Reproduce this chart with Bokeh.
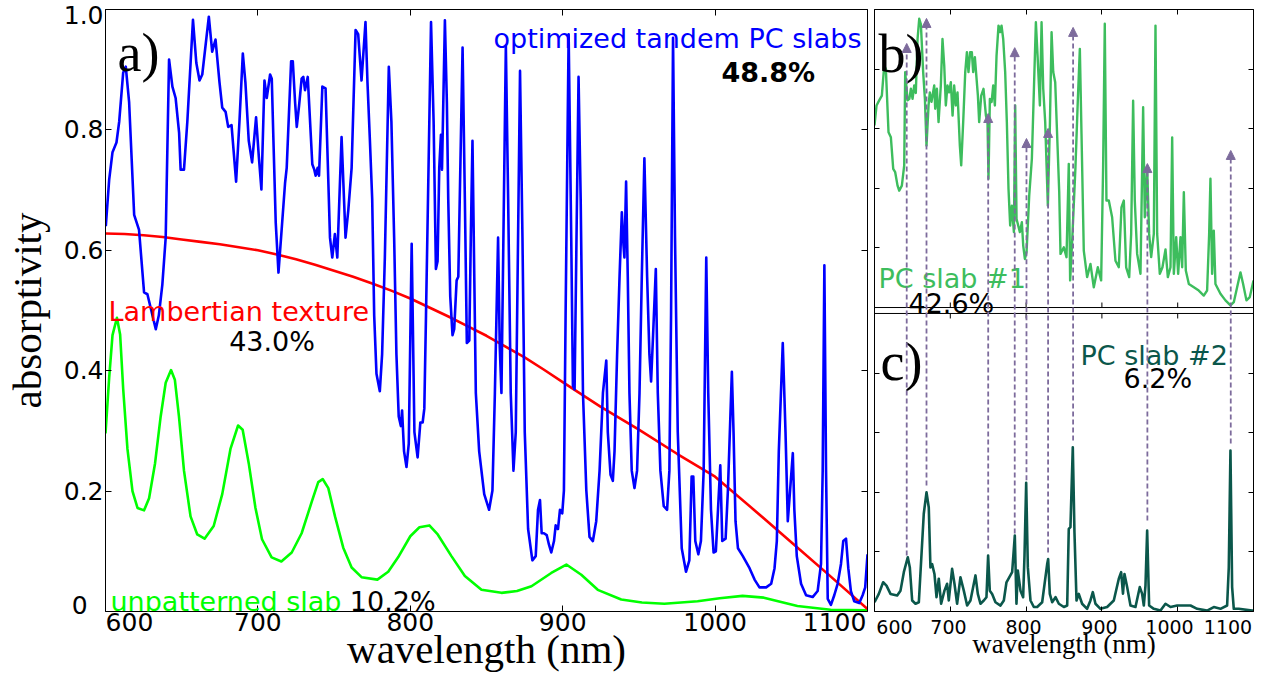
from bokeh.plotting import figure
from bokeh.models import (Label, Range1d, LinearAxis, FixedTicker, Span, Arrow, NormalHead,
                          ColumnDataSource, CustomJSTickFormatter)
from bokeh.layouts import row
from bokeh.embed import file_html
from bokeh.resources import INLINE

# ---------------- data ----------------
# panel a: optimized tandem PC slabs (blue)
tandem_nm = [600.2, 602.4, 604.6, 607.2, 609.0, 611.6, 613.3, 615.5, 618.8, 622.0, 625.3, 627.5, 630.8, 633.0,
             635.0, 637.3, 639.5, 641.7, 643.9, 646.0, 648.3, 649.3, 651.5, 653.7, 657.4, 659.6, 661.7, 663.5,
             667.8, 670.0, 672.2, 674.8, 676.6, 678.8, 680.5, 682.7, 685.7, 687.9, 690.1, 691.8, 694.0, 696.2,
             698.8, 700.6, 702.3, 704.3, 705.8, 708.0, 709.1, 710.2, 711.7, 713.5, 715.2, 717.8, 718.9, 721.8,
             722.9, 724.4, 725.5, 727.0, 728.7, 729.8, 730.9, 732.7, 735.7, 737.0, 737.9, 739.2, 740.1, 742.3,
             744.4, 745.8, 747.3, 748.8, 750.5, 752.1, 754.9, 757.5, 759.3, 761.5, 764.1, 765.8, 768.0, 770.6,
             771.9, 773.5, 775.0, 776.3, 777.8, 780.0, 781.5, 783.3, 785.9, 787.6, 789.4, 790.9, 792.4, 793.8,
             794.6, 795.9, 797.5, 799.0, 800.9, 802.7, 804.8, 806.6, 808.1, 809.2, 810.3, 813.6, 815.3, 816.8,
             817.9, 819.0, 820.1, 820.8, 822.7, 824.0, 824.9, 826.2, 827.7, 828.8, 830.4, 831.5, 834.3, 835.8,
             837.1, 838.7, 839.7, 840.8, 843.0, 845.2, 848.5, 851.7, 853.9, 855.5, 857.6, 858.7, 859.8, 862.7,
             864.2, 865.9, 867.7, 869.2, 872.0, 873.6, 875.1, 877.3, 880.1, 882.3, 883.8, 885.1, 886.2, 887.7,
             889.5, 891.0, 892.5, 894.3, 895.4, 896.9, 898.2, 899.7, 900.8, 901.9, 903.9, 905.6, 906.7, 907.8,
             910.4, 911.8, 913.3, 915.5, 917.6, 919.8, 922.0, 924.2, 926.4, 928.6, 929.6, 931.4, 932.9, 934.0,
             935.7, 937.3, 938.8, 939.9, 940.5, 941.6, 942.7, 943.8, 945.3, 947.1, 948.8, 950.4, 951.9, 953.6,
             955.4, 956.9, 958.0, 959.3, 961.1, 962.4, 964.1, 966.3, 968.5, 970.0, 971.1, 972.4, 973.7, 975.5,
             978.1, 980.9, 983.1, 984.6, 985.7, 987.0, 989.0, 990.7, 992.5, 994.2, 995.5, 997.3, 999.0, 1000.5,
             1001.9, 1003.4, 1004.7, 1006.9, 1008.4, 1011.0, 1012.1, 1013.4, 1015.0, 1018.2, 1022.6, 1025.9,
             1029.1, 1033.5, 1036.8, 1039.0, 1040.5, 1041.8, 1044.4, 1046.2, 1047.7, 1049.2, 1051.0, 1052.0,
             1053.6, 1056.4, 1059.7, 1064.0, 1067.3, 1069.5, 1070.6, 1071.7, 1072.8, 1073.9, 1076.0, 1078.2,
             1080.4, 1082.6, 1084.1, 1085.9, 1087.4, 1089.1, 1091.3, 1094.6, 1096.8, 1098.5, 1100.0]
tandem_abs = [0.640, 0.717, 0.763, 0.779, 0.814, 0.895, 0.905, 0.846, 0.659, 0.634, 0.530, 0.527, 0.492, 0.469,
              0.492, 0.543, 0.621, 0.917, 0.872, 0.853, 0.795, 0.734, 0.734, 0.814, 0.983, 0.911, 0.882, 0.892,
              0.988, 0.930, 0.950, 0.879, 0.837, 0.830, 0.805, 0.808, 0.714, 0.814, 0.927, 0.879, 0.782, 0.746,
              0.821, 0.756, 0.701, 0.882, 0.853, 0.892, 0.885, 0.782, 0.646, 0.563, 0.621, 0.711, 0.737, 0.914,
              0.914, 0.846, 0.805, 0.840, 0.885, 0.888, 0.866, 0.888, 0.743, 0.734, 0.724, 0.737, 0.724, 0.872,
              0.869, 0.750, 0.621, 0.588, 0.627, 0.588, 0.788, 0.621, 0.666, 0.737, 0.966, 0.959, 0.882, 0.979,
              0.879, 0.782, 0.685, 0.492, 0.395, 0.366, 0.427, 0.588, 0.905, 0.814, 0.621, 0.427, 0.324, 0.308,
              0.334, 0.266, 0.240, 0.279, 0.611, 0.298, 0.256, 0.314, 0.314, 0.337, 0.492, 0.979, 0.814, 0.569,
              0.582, 0.737, 0.792, 0.734, 0.982, 0.846, 0.685, 0.524, 0.459, 0.469, 0.550, 0.556, 0.937, 0.685,
              0.446, 0.450, 0.621, 0.782, 0.363, 0.266, 0.195, 0.169, 0.201, 0.363, 0.621, 0.440, 0.363, 0.940,
              0.685, 0.363, 0.234, 0.298, 0.898, 0.621, 0.298, 0.137, 0.085, 0.092, 0.169, 0.185, 0.130, 0.130,
              0.127, 0.111, 0.098, 0.117, 0.143, 0.137, 0.169, 0.163, 0.201, 0.492, 0.959, 0.621, 0.375, 0.369,
              0.888, 0.685, 0.363, 0.201, 0.124, 0.117, 0.150, 0.234, 0.363, 0.417, 0.298, 0.227, 0.217, 0.266,
              0.427, 0.556, 0.663, 0.608, 0.588, 0.714, 0.556, 0.363, 0.234, 0.205, 0.234, 0.363, 0.556, 0.753,
              0.556, 0.427, 0.382, 0.459, 0.569, 0.363, 0.234, 0.175, 0.169, 0.234, 0.492, 0.953, 0.621, 0.298,
              0.105, 0.066, 0.085, 0.224, 0.224, 0.117, 0.095, 0.117, 0.234, 0.588, 0.363, 0.169, 0.098, 0.100,
              0.169, 0.243, 0.117, 0.121, 0.201, 0.398, 0.298, 0.150, 0.105, 0.092, 0.072, 0.053,
              0.040, 0.040, 0.046, 0.072, 0.117, 0.266, 0.446, 0.298, 0.150, 0.201, 0.263, 0.169,
              0.092, 0.046, 0.027, 0.024, 0.034, 0.079, 0.234, 0.575, 0.234, 0.021, 0.011, 0.027,
              0.046, 0.079, 0.117, 0.121, 0.072, 0.034, 0.017, 0.014, 0.027, 0.040, 0.095]

# panel a: Lambertian texture (red)
lamb_nm = [600, 612.5, 625, 637.5, 650, 662.5, 675, 687.5, 700, 712.5, 725, 737.5, 750, 762.5, 775, 787.5, 800,
           812.5, 825, 837.5, 850, 862.5, 875, 887.5, 900, 925, 950, 975, 1000, 1025, 1050, 1075, 1100]
lamb_abs = [0.628, 0.627, 0.625, 0.622, 0.618, 0.614, 0.610, 0.605, 0.600, 0.593, 0.585, 0.576, 0.566, 0.556,
            0.545, 0.533, 0.520, 0.505, 0.490, 0.474, 0.458, 0.440, 0.422, 0.402, 0.381, 0.340, 0.302, 0.262,
            0.224, 0.170, 0.115, 0.060, 0.004]

# panel a: unpatterned slab (green)
slab_nm = [600.0, 602.4, 604.6, 607.5, 609.6, 611.6, 614.4, 617.7, 621.0, 625.3, 628.6, 632.5, 636.2, 639.5,
           643.0, 645.5, 648.2, 651.5, 655.8, 660.2, 665.0, 671.0, 676.6, 682.0, 687.0, 690.0, 694.0, 698.4,
           702.7, 709.0, 715.4, 722.2, 728.7, 735.3, 739.6, 742.5, 746.2, 750.6, 756.0, 761.5, 768.0, 778.4,
           785.5, 792.0, 800.0, 806.0, 812.5, 818.0, 827.0, 835.8, 846.7, 859.8, 870.0, 879.5, 892.5, 902.4,
           912.2, 923.0, 938.4, 952.0, 966.7, 988.5, 1003.0, 1018.0, 1032.0, 1054.0, 1075.8, 1100.0]
slab_abs = [0.296, 0.388, 0.459, 0.488, 0.460, 0.370, 0.270, 0.200, 0.172, 0.168, 0.188, 0.246, 0.324, 0.380,
            0.401, 0.385, 0.324, 0.234, 0.158, 0.128, 0.121, 0.142, 0.195, 0.270, 0.309, 0.302, 0.246, 0.172,
            0.120, 0.090, 0.083, 0.098, 0.130, 0.182, 0.215, 0.220, 0.205, 0.158, 0.106, 0.073, 0.057, 0.053,
            0.066, 0.090, 0.125, 0.140, 0.143, 0.128, 0.092, 0.059, 0.036, 0.031, 0.034, 0.042, 0.064, 0.078,
            0.061, 0.036, 0.020, 0.015, 0.013, 0.017, 0.022, 0.026, 0.023, 0.009, 0.003, 0.002]

# panel b: PC slab #1
pc1_nm = [600.0, 602.7, 606.2, 609.7, 612.8, 615.0, 618.5, 621.6, 624.7, 627.3, 630.4, 632.6, 636.1, 639.2,
          640.5, 643.6, 646.0, 648.0, 650.2, 652.4, 654.5, 656.8, 659.0, 661.2, 664.2, 666.5, 668.6, 671.3,
          673.0, 675.2, 678.8, 680.1, 682.3, 684.5, 687.5, 689.7, 692.0, 694.1, 696.3, 698.5, 700.7, 703.0,
          705.1, 707.3, 709.5, 712.6, 714.4, 717.0, 719.7, 721.9, 724.0, 726.2, 728.4, 730.2, 732.4, 736.4,
          738.1, 740.8, 743.8, 747.0, 749.1, 750.4, 752.2, 754.5, 756.6, 758.8, 761.0, 763.6, 765.8, 767.6,
          769.8, 772.4, 774.6, 776.8, 779.0, 781.2, 783.9, 785.6, 787.4, 791.8, 794.4, 796.2, 798.4, 800.6,
          804.1, 807.6, 812.9, 815.1, 818.2, 820.4, 822.6, 825.2, 827.0, 828.7, 831.4, 833.6, 835.8, 838.4,
          843.7, 845.4, 849.8, 853.3, 856.3, 858.1, 860.8, 865.1, 868.2, 870.9, 873.1, 876.1, 880.5, 884.9,
          889.3, 894.6, 899.0, 901.6, 903.8, 906.0, 909.1, 913.5, 917.9, 922.3, 925.8, 928.9, 932.0, 936.0,
          938.6, 941.2, 943.4, 946.5, 950.9, 954.4, 956.6, 959.7, 962.3, 965.0, 968.5, 970.7, 972.9, 976.4,
          979.9, 983.9, 987.0, 990.5, 992.7, 994.9, 998.0, 1000.6, 1003.7, 1005.9, 1008.1, 1010.7, 1014.7,
          1021.3, 1027.8, 1034.4, 1038.8, 1041.5, 1043.2, 1045.4, 1047.6, 1049.8, 1056.4, 1063.0, 1069.6,
          1074.0, 1078.4, 1082.8, 1086.3, 1090.7, 1095.1, 1100.0]
pc1_abs = [0.611, 0.678, 0.695, 0.711, 0.812, 0.800, 0.588, 0.571, 0.465, 0.454, 0.409, 0.392, 0.409, 0.477,
           0.790, 0.695, 0.700, 0.734, 0.700, 0.745, 0.720, 0.901, 0.969, 0.950, 0.790, 0.700, 0.543, 0.678,
           0.722, 0.690, 0.745, 0.667, 0.734, 0.622, 0.745, 0.901, 0.812, 0.678, 0.745, 0.722, 0.756, 0.644,
           0.745, 0.678, 0.722, 0.543, 0.477, 0.622, 0.790, 0.857, 0.790, 0.857, 0.857, 0.790, 0.840, 0.711,
           0.622, 0.711, 0.734, 0.644, 0.622, 0.432, 0.700, 0.690, 0.745, 0.678, 0.845, 0.946, 0.924, 0.946,
           0.901, 0.790, 0.622, 0.398, 0.275, 0.342, 0.253, 0.678, 0.297, 0.253, 0.286, 0.208, 0.163, 0.186,
           0.375, 0.499, 0.957, 0.846, 0.678, 0.957, 0.734, 0.622, 0.477, 0.342, 0.615, 0.924, 0.790, 0.756,
           0.387, 0.180, 0.202, 0.169, 0.482, 0.091, 0.225, 0.470, 0.694, 0.868, 0.582, 0.191, 0.102, 0.146,
           0.068, 0.135, 0.091, 0.471, 0.952, 0.359, 0.359, 0.303, 0.157, 0.135, 0.336, 0.359, 0.135, 0.102,
           0.247, 0.694, 0.359, 0.180, 0.113, 0.672, 0.303, 0.471, 0.247, 0.169, 0.247, 0.946, 0.247, 0.113,
           0.135, 0.195, 0.102, 0.135, 0.571, 0.113, 0.236, 0.113, 0.236, 0.135, 0.387, 0.124, 0.079,
           0.068, 0.057, 0.040, 0.057, 0.247, 0.432, 0.113, 0.258, 0.079, 0.046, 0.024, 0.007,
           0.018, 0.068, 0.118, 0.079, 0.024, 0.035, 0.091]

# panel c: PC slab #2
pc2_nm = [600.0, 605.7, 611.4, 615.8, 621.1, 629.9, 634.3, 638.7, 643.9, 646.6, 649.7, 654.1, 658.5, 665.0,
          668.6, 671.6, 673.8, 676.0, 679.1, 681.8, 684.8, 687.9, 692.3, 695.8, 698.0, 702.4, 705.5, 709.0,
          713.4, 717.8, 722.2, 726.6, 733.2, 736.3, 739.8, 744.2, 747.7, 749.9, 752.1, 755.2, 759.6, 766.2,
          770.6, 774.1, 781.6, 785.1, 787.3, 789.1, 792.6, 796.1, 797.9, 800.1, 802.3, 805.8, 810.2, 814.6,
          821.2, 827.8, 829.1, 831.3, 834.4, 838.8, 843.2, 849.8, 854.2, 856.3, 858.5, 861.6, 863.8, 866.5,
          869.5, 873.9, 880.5, 884.9, 888.0, 891.5, 898.1, 906.9, 915.7, 922.3, 925.4, 927.8, 929.8, 933.3,
          937.7, 944.3, 950.0, 953.0, 955.3, 957.5, 959.7, 962.3, 968.5, 977.3, 983.9, 990.5, 999.3, 1016.9,
          1025.7, 1038.8, 1047.6, 1056.4, 1065.2, 1067.4, 1069.6, 1071.8, 1074.0, 1080.6, 1098.2, 1100.0]
pc2_abs = [0.031, 0.059, 0.098, 0.087, 0.059, 0.054, 0.070, 0.132, 0.182, 0.148, 0.037, 0.026, 0.031, 0.328,
           0.400, 0.349, 0.148, 0.159, 0.126, 0.048, 0.110, 0.026, 0.070, 0.093, 0.037, 0.143, 0.093, 0.026,
           0.115, 0.070, 0.020, 0.037, 0.121, 0.059, 0.026, 0.037, 0.048, 0.188, 0.070, 0.059, 0.031, 0.020,
           0.037, 0.098, 0.132, 0.255, 0.026, 0.137, 0.070, 0.048, 0.188, 0.432, 0.148, 0.037, 0.015, 0.015,
           0.031, 0.159, 0.176, 0.059, 0.031, 0.048, 0.026, 0.015, 0.020, 0.277, 0.283, 0.551, 0.266, 0.037,
           0.059, 0.026, 0.009, 0.037, 0.065, 0.026, 0.009, 0.015, 0.037, 0.110, 0.132, 0.060, 0.126, 0.082,
           0.020, 0.015, 0.082, 0.060, 0.020, 0.087, 0.272, 0.020, 0.009, 0.003, 0.026, 0.015, 0.020, 0.020,
           0.009, 0.003, 0.015, 0.009, 0.020, 0.148, 0.540, 0.082, 0.009, 0.009, 0.003, 0.003]

# arrows linking the peaks of slab #2 (panel c) with panel b
arrow_nm = [642.5, 668.6, 750.0, 785.0, 800.5, 829.0, 862.0, 960.0, 1070.0]
arrow_from_c = [0.188, 0.423, 0.211, 0.262, 0.440, 0.198, 0.574, 0.305, 0.564]
arrow_to_b = [0.886, 0.970, 0.651, 0.872, 0.567, 0.601, 0.940, 0.483, 0.527]

x_ticks = [600, 700, 800, 900, 1000, 1100]
x_tick_labels = ["600", "700", "800", "900", "1000", "1100"]
y_ticks = [0.0, 0.2, 0.4, 0.6, 0.8, 1.0]
y_tick_labels = ["0\u2007", "0.2", "0.4", "0.6", "0.8", "1.0"]

# ---------------- helpers ----------------
H = 678
SANS = "DejaVu Sans"
SERIF = "Liberation Serif"


def txt(p, x, y, text, size, color="black", font=SANS, align="left", style="normal"):
    p.add_layout(Label(x=x, y=y, text=text, text_font_size=size, text_color=color, text_font=font,
                       text_align=align, text_baseline="alphabetic", text_font_style=style))


def tick_only(ax, ticks, ln):
    ax.ticker = FixedTicker(ticks=ticks)
    ax.major_tick_in = ln
    ax.major_tick_out = 0
    ax.minor_tick_in = 0
    ax.minor_tick_out = 0
    ax.major_label_text_color = None
    ax.major_label_text_font_size = "1px"
    ax.major_label_standoff = 0
    ax.axis_line_color = "black"
    ax.major_tick_line_color = "black"


def label_axis(ax, positions, labels, size, standoff, title_font_size, title_standoff):
    ax.ticker = FixedTicker(ticks=positions)
    ax.formatter = CustomJSTickFormatter(args=dict(labels=labels), code="return labels[index]")
    ax.major_tick_in = 0
    ax.major_tick_out = 0
    ax.minor_tick_in = 0
    ax.minor_tick_out = 0
    ax.axis_line_color = None
    ax.major_tick_line_color = None
    ax.major_label_text_font = SANS
    ax.major_label_text_font_size = size
    ax.major_label_text_color = "black"
    ax.major_label_standoff = standoff
    ax.axis_label_text_font = SERIF
    ax.axis_label_text_font_size = title_font_size
    ax.axis_label_text_font_style = "normal"
    ax.axis_label_text_color = "black"
    ax.axis_label_standoff = title_standoff


def base_fig(width, yr, mbl, mbr, mbb):
    p = figure(width=width, height=H, x_range=Range1d(600, 1100), y_range=Range1d(*yr),
               output_backend="svg", toolbar_location=None, min_border_left=mbl, min_border_right=mbr,
               min_border_top=9, min_border_bottom=mbb)
    p.xgrid.visible = False
    p.ygrid.visible = False
    p.outline_line_color = "black"
    p.outline_line_alpha = 1.0
    p.outline_line_width = 1
    p.background_fill_color = "white"
    p.border_fill_color = "white"
    p.add_layout(LinearAxis(), "above")
    p.add_layout(LinearAxis(), "right")
    return p


# ---------------- panel a ----------------
pa = base_fig(870, (0, 1), 103, 3, H - 612)
PXA = 764 / 500.0   # px per nm
PYA = 603.0         # px per unit
for ax in pa.xaxis:
    tick_only(ax, x_ticks[1:-1], 6)
for ax in pa.yaxis:
    tick_only(ax, y_ticks[1:-1], 6)

# outer axes carrying the tick labels and the axis titles
xa_lab = LinearAxis(axis_label="wavelength (nm)")
label_axis(xa_lab, [x_ticks[0] + 24 / PXA] + x_ticks[1:-1] + [x_ticks[-1] - 33 / PXA], x_tick_labels,
           "25px", 1, "41px", -8)
pa.add_layout(xa_lab, "below")

ya_lab = LinearAxis(axis_label="absorptivity")
label_axis(ya_lab, [y_ticks[0] + 6 / PYA] + y_ticks[1:-1] + [y_ticks[-1] - 4.3 / PYA], y_tick_labels,
           "25px", 2, "41px", 11)
pa.add_layout(ya_lab, "left")

pa.line(slab_nm, slab_abs, line_color="#00ff00", line_width=2.6, line_join="round")
pa.line(lamb_nm, lamb_abs, line_color="#ff0000", line_width=2.6, line_join="round")
pa.line(tandem_nm, tandem_abs, line_color="#0000ff", line_width=2.6, line_join="round")

txt(pa, 600 + 12 / PXA, 1 - 44 / PYA, "a)", "54px", font=SERIF)
txt(pa, 600 + 758 / PXA, 1 - 29.3 / PYA, "optimized tandem PC slabs", "27px", color="#0000ff", align="right")
txt(pa, 600 + 664.5 / PXA, 1 - 62.7 / PYA, "48.8%", "27px", align="center", style="bold")
txt(pa, 600 + 3 / PXA, 1 - 303 / PYA, "Lambertian texture", "27px", color="#ff0000")
txt(pa, 600 + 167 / PXA, 1 - 333 / PYA, "43.0%", "27px", align="center")
txt(pa, 600 + 5 / PXA, 1 - 593 / PYA, "unpatterned slab", "27px", color="#00ff00")
txt(pa, 600 + 245 / PXA, 1 - 593 / PYA, "10.2%", "27px")

# ---------------- panels b + c (one frame, stacked) ----------------
GAP = 0.02
OFF = 1.0 + GAP
pb = base_fig(386, (0, 2.0 + GAP), 4, 3, H - 611)
PXB = 379 / 500.0
PYB = 298.0
yt_bc = [v for v in y_ticks[1:-1]] + [v + OFF for v in y_ticks[1:-1]]
for ax in pb.xaxis:
    tick_only(ax, x_ticks[1:-1], 5)
for ax in pb.yaxis:
    tick_only(ax, yt_bc, 5)

xb_lab = LinearAxis(axis_label="wavelength (nm)")
label_axis(xb_lab, [x_ticks[0] + 20 / PXB, 697.6, 796.6, 896.8, 989.2, x_ticks[-1] - 25.5 / PXB],
           x_tick_labels, "19px", 8, "27px", -8)
pb.add_layout(xb_lab, "below")

# inner frame edges between b and c
pb.add_layout(Span(location=1.0, dimension="width", line_color="black", line_width=1))
pb.add_layout(Span(location=OFF, dimension="width", line_color="black", line_width=1))
inner = x_ticks[1:-1]
pb.segment(x0=inner, y0=[1.0] * len(inner), x1=inner, y1=[1.0 - 5 / PYB] * len(inner), line_color="black")
pb.segment(x0=inner, y0=[OFF] * len(inner), x1=inner, y1=[OFF + 5 / PYB] * len(inner), line_color="black")

pb.line(pc1_nm, [v + OFF for v in pc1_abs], line_color="#3dbd5d", line_width=2.4, line_join="round")
pb.line(pc2_nm, pc2_abs, line_color="#0b574b", line_width=2.6, line_join="round")

txt(pb, 600 + 4 / PXB, OFF + 1 - 44 / PYB, "b)", "54px", font=SERIF)
txt(pb, 600 + 6 / PXB, 1 - 48.3 / PYB, "c)", "54px", font=SERIF)
txt(pb, 600 + 4 / PXB, OFF + 29 / PYB, "PC slab #1", "27px", color="#3dbd5d")
txt(pb, 600 + 34 / PXB, OFF + 4 / PYB, "42.6%", "27px")
txt(pb, 600 + 206 / PXB, 1 - 42 / PYB, "PC slab #2", "27px", color="#0b574b")
txt(pb, 600 + 249 / PXB, 1 - 65 / PYB, "6.2%", "27px")

src = ColumnDataSource(dict(x=arrow_nm, y0=arrow_from_c, y1=[v + OFF for v in arrow_to_b]))
pb.add_layout(Arrow(end=NormalHead(size=9, fill_color="#7d6b9c", line_color="#7d6b9c", line_width=1),
                    source=src, x_start="x", y_start="y0", x_end="x", y_end="y1",
                    line_color="#7d6b9c", line_width=1.8, line_dash="5 3"))

layout = row(pa, pb)
open("out.html", "w").write(file_html(layout, INLINE))
